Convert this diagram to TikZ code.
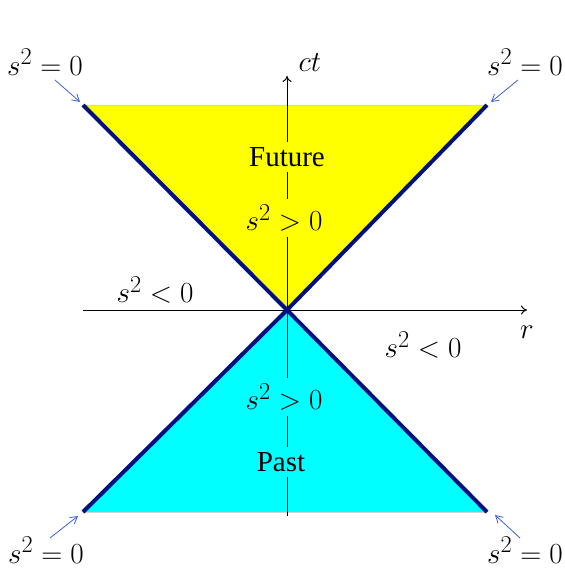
\documentclass[tikz,border=0pt]{standalone}
\usepackage{fontspec}
\setmainfont{Liberation Serif}
\usetikzlibrary{arrows.meta}
\definecolor{conenavy}{RGB}{0,16,128}
\definecolor{pointblue}{RGB}{64,96,208}
\definecolor{futureyellow}{RGB}{255,255,0}
\definecolor{pastcyan}{RGB}{0,255,255}

\begin{document}
\begin{tikzpicture}[x=1pt, y=-1pt, font=\fontsize{29}{32}\selectfont,
    nullline/.style={draw=conenavy, line width=4pt},
    pointer/.style={draw=pointblue, line width=0.8pt, -{Straight Barb[length=7pt,width=8pt]}},
    gapbox/.style={inner xsep=3pt, inner ysep=5pt},
    mathlabel/.style={font=\fontsize{24.88}{28}\selectfont, scale=1.17, inner sep=1pt}]
    \useasboundingbox (0,0) rectangle (564,569);

    % Define the points of the cones
    \coordinate (O) at (287,310);
    \coordinate (TL) at (83,105);
    \coordinate (TR) at (487,105);
    \coordinate (BL) at (83,512);
    \coordinate (BR) at (487,512);

    % Fill the future and past cones
    \fill[futureyellow] (TL) -- (O) -- (TR) -- cycle;
    \fill[pastcyan] (BL) -- (O) -- (BR) -- cycle;
    \draw[gray!35, line width=0.8pt] (TL) -- (TR);
    \draw[gray!35, line width=0.8pt] (BL) -- (BR);

    % Draw the axes
    \coordinate (Rstart) at (83,310);
    \coordinate (Rend) at (527,310);
    \coordinate (Tstart) at (287,516);
    \coordinate (Tend) at (287,76);
    \draw[line width=1pt, -{To[length=6pt,width=9pt]}] (Rstart) -- (Rend);
    \draw[line width=1pt, -{To[length=6pt,width=9pt]}] (Tstart) -- (Tend);

    % Draw the light cone edges
    \draw[nullline] (TL) -- (O) -- (BR);
    \draw[nullline] (TR) -- (O) -- (BL);

    % Place the labels inside the cones
    \node[fill=futureyellow, gapbox] (future) at (287,157) {Future};
    \node[fill=futureyellow, mathlabel, gapbox] (timeup) at (284,218) {$s^2>0$};
    \node[fill=pastcyan, mathlabel, gapbox] (timedown) at (284,397) {$s^2>0$};
    \node[fill=pastcyan, gapbox] (past) at (281,462) {Past};

    % Place the axis and region labels
    \node[mathlabel] (ct) at (310,63) {$ct$};
    \node[mathlabel] (r) at (527,332) {$r$};
    \node[mathlabel] (spaceleft) at (155,290) {$s^2<0$};
    \node[mathlabel] (spaceright) at (423,345) {$s^2<0$};

    % Place the null labels with their arrows
    \node[mathlabel] (nullTL) at (45,62) {$s^2=0$};
    \node[mathlabel] (nullTR) at (525,62) {$s^2=0$};
    \node[mathlabel] (nullBL) at (46,550) {$s^2=0$};
    \node[mathlabel] (nullBR) at (525,550) {$s^2=0$};
    \coordinate (TLtail) at (55,80);
    \coordinate (TLtip) at (80,102);
    \coordinate (TRtail) at (518,80);
    \coordinate (TRtip) at (491,102);
    \coordinate (BLtail) at (50,538);
    \coordinate (BLtip) at (78,516);
    \coordinate (BRtail) at (520,538);
    \coordinate (BRtip) at (495,515);
    \draw[pointer] (TLtail) -- (TLtip);
    \draw[pointer] (TRtail) -- (TRtip);
    \draw[pointer] (BLtail) -- (BLtip);
    \draw[pointer] (BRtail) -- (BRtip);

\end{tikzpicture}
\end{document}
